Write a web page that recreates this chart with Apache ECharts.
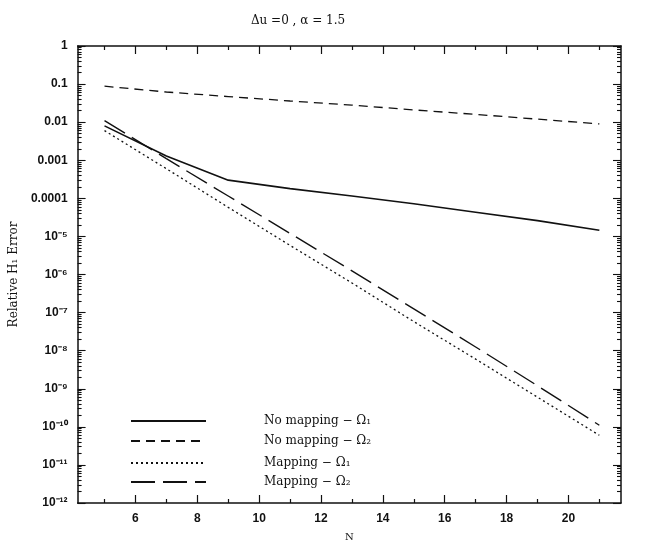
<!DOCTYPE html>
<html><head><meta charset="utf-8">
<script src="https://cdn.jsdelivr.net/npm/echarts@6/dist/echarts.min.js"></script>
<style>html,body{margin:0;padding:0;background:#fff}#c{width:645px;height:547px}</style>
</head><body><div id="c"></div>
<script>
// ---- data ----
const N = [5, 7, 9, 11, 13, 15, 17, 19, 21];
const noMapping1 = [8.0e-3, 1.3e-3, 3.0e-4, 1.8e-4, 1.15e-4, 7.2e-5, 4.3e-5, 2.6e-5, 1.45e-5];
const noMapping2 = [0.088, 0.062, 0.047, 0.036, 0.028, 0.021, 0.016, 0.012, 0.009];
const mapping1   = [6e-3, 6e-4, 5.8e-5, 5.8e-6, 6e-7, 5.8e-8, 6e-9, 6e-10, 6e-11];
const mapping2   = [1.1e-2, 1.1e-3, 1.15e-4, 1.2e-5, 1.25e-6, 1.25e-7, 1.25e-8, 1.2e-9, 1.1e-10];
const seriesNames = ['No mapping − Ω₁', 'No mapping − Ω₂', 'Mapping − Ω₁', 'Mapping − Ω₂'];
const xMajorTicks = [6, 8, 10, 12, 14, 16, 18, 20];
const xMinorTicks = [5, 7, 9, 11, 13, 15, 17, 19, 21];
const yExponents = [0, -1, -2, -3, -4, -5, -6, -7, -8, -9, -10, -11, -12];
const yDecimalLabels = {0: '1', '-1': '0.1', '-2': '0.01', '-3': '0.001', '-4': '0.0001'};
const titleText = 'Δu =0 , α = 1.5';
const yName = 'Relative H₁ Error';
const xName = 'N';

const sup = {'-':'⁻','0':'⁰','1':'¹','2':'²','3':'³','4':'⁴','5':'⁵','6':'⁶','7':'⁷','8':'⁸','9':'⁹'};
function yFmt(v) {
  const e = Math.round(Math.log10(v));
  if (yDecimalLabels[e] !== undefined) return yDecimalLabels[e];
  return '10' + String(e).split('').map(c => sup[c]).join('');
}
const yMajor = yExponents.map(e => Math.pow(10, e));
const yMinor = [];
for (let e = -12; e < 0; e++) for (let m = 2; m <= 9; m++) yMinor.push(m * Math.pow(10, e));

const ink = '#111';
const XMIN = 4.13, XMAX = 21.7;

function xAx(pos, ticks, len, labels, line) {
  return {
    type: 'value', position: pos, min: XMIN, max: XMAX,
    axisLine: {show: line, onZero: false, lineStyle: {color: ink, width: 1.5}},
    axisTick: {show: true, inside: true, length: len, customValues: ticks, lineStyle: {color: ink, width: 1.2}},
    axisLabel: {show: labels, customValues: xMajorTicks, color: ink, fontFamily: 'Liberation Sans', fontWeight: 'bold', fontSize: 12, margin: 10},
    splitLine: {show: false},
    name: labels ? xName : '',
    nameLocation: 'middle', nameGap: 29,
    nameTextStyle: {fontFamily: 'DejaVu Serif', fontSize: 10, color: ink}
  };
}
function yAx(pos, ticks, len, main) {
  const showLab = main && pos === 'left';
  return {
    type: 'log', logBase: 10, position: pos, min: 1e-12, max: 1,
    axisLine: {show: main, onZero: false, lineStyle: {color: ink, width: 1.5}},
    axisTick: {show: true, inside: true, length: len, customValues: ticks, lineStyle: {color: ink, width: 1.1}},
    axisLabel: {show: showLab, customValues: yMajor, formatter: yFmt, color: ink, fontFamily: 'Liberation Sans', fontWeight: 'bold', fontSize: 12, margin: 10},
    splitLine: {show: false}, minorTick: {show: false},
    name: showLab ? yName : '', nameLocation: 'middle', nameGap: 53, nameRotate: 90,
    nameTextStyle: {fontFamily: 'DejaVu Serif', fontSize: 12, color: ink}
  };
}

function pts(arr) { return N.map((n, i) => [n, arr[i]]); }
const styles = [
  {type: 'solid', width: 1.6},
  {type: [9, 6], width: 1.3},
  {type: [2, 3], width: 1.3},
  {type: [24, 8], width: 1.4}
];
const datasets = [noMapping1, noMapping2, mapping1, mapping2];
const series = datasets.map((d, i) => ({
  name: seriesNames[i], type: 'line', data: pts(d), xAxisIndex: 0, yAxisIndex: 0,
  symbol: 'none', showSymbol: false, smooth: false, animation: false,
  lineStyle: {color: ink, width: styles[i].width, type: styles[i].type},
  itemStyle: {color: ink}
}));

const legendTops = [410, 430, 452, 471];
const legends = seriesNames.map((nm, i) => ({
  data: [nm], left: 125, top: legendTops[i], orient: 'horizontal',
  itemWidth: 75, itemHeight: 12, selectedMode: false,
  itemStyle: {opacity: 0, borderWidth: 0},
  textStyle: {fontFamily: 'DejaVu Serif', fontSize: 12, color: ink, padding: [0, 0, 0, 53]}
}));

const chart = echarts.init(document.getElementById('c'), null, {renderer: 'canvas'});
chart.setOption({
  animation: false,
  backgroundColor: '#fff',
  grid: {left: 76, right: 24, top: 46, bottom: 32, containLabel: false},
  xAxis: [
    xAx('bottom', xMajorTicks, 8, true, true),
    xAx('bottom', xMinorTicks, 4, false, false),
    xAx('top', xMajorTicks, 8, false, true),
    xAx('top', xMinorTicks, 4, false, false)
  ],
  yAxis: [
    yAx('left', yMajor, 8, true),
    yAx('left', yMinor, 4, false),
    yAx('right', yMajor, 8, true),
    yAx('right', yMinor, 4, false)
  ],
  legend: legends,
  graphic: [{type: 'text', x: 298, y: 21, style: {text: titleText, font: '12px "DejaVu Serif"', fill: ink, textAlign: 'center', textVerticalAlign: 'middle'}}],
  series: series
});
</script></body></html>
